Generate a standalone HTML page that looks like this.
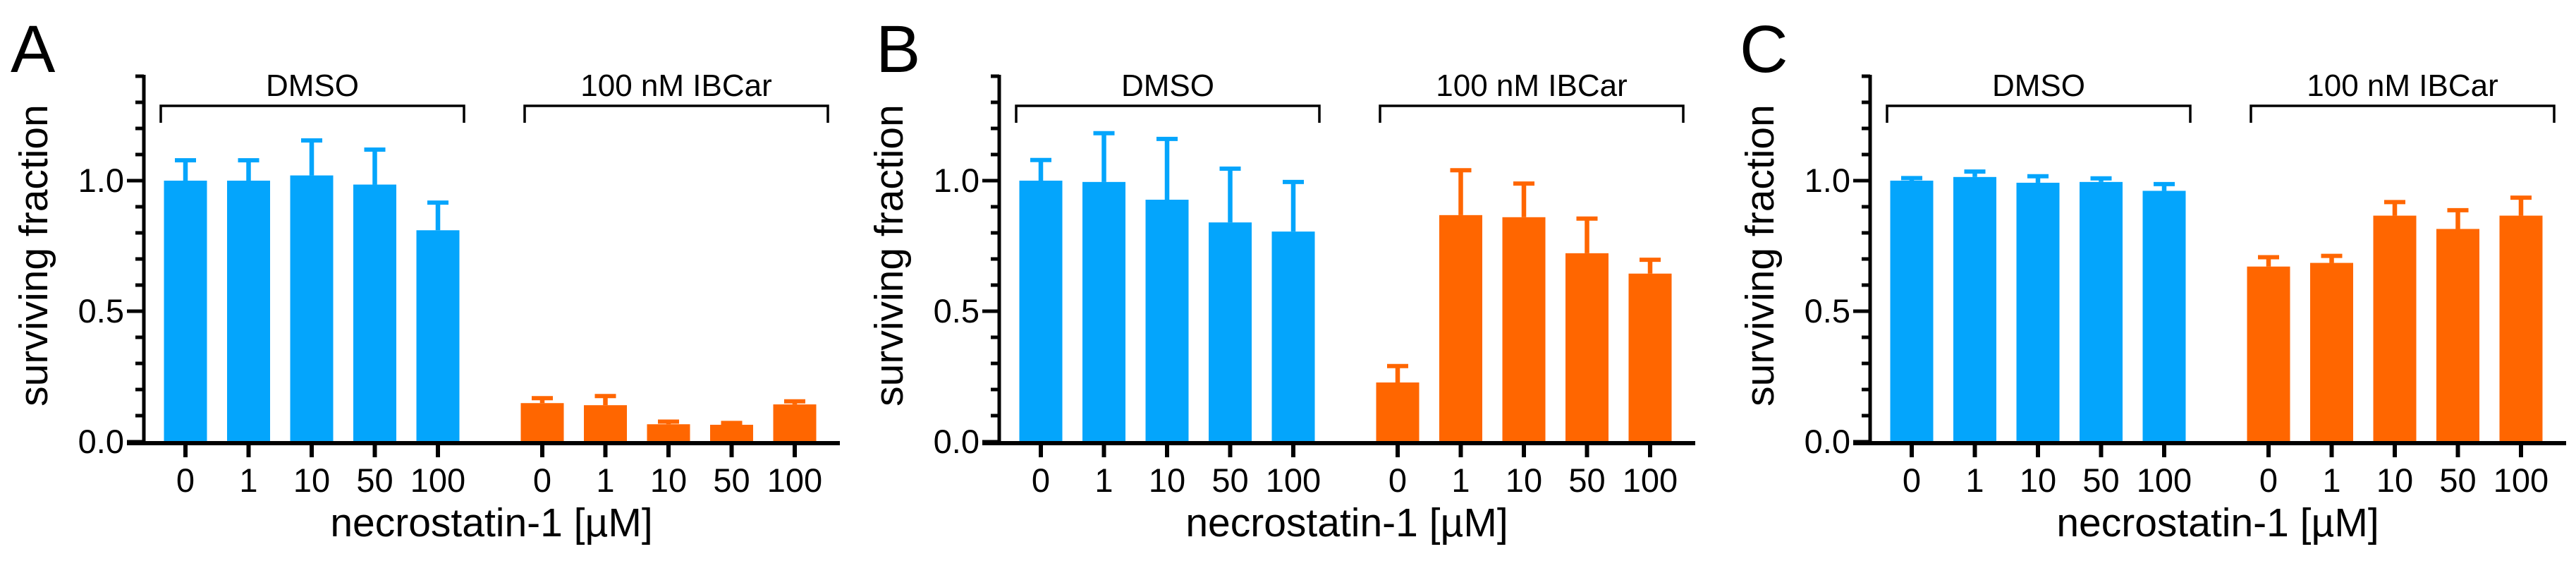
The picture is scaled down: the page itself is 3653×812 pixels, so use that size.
<!DOCTYPE html>
<html><head><meta charset="utf-8"><style>
html,body{margin:0;padding:0;background:#fff;}
svg{display:block;font-family:"Liberation Sans",Arial,sans-serif;}
</style></head><body>
<svg id="fig" width="3653" height="812" viewBox="0 0 3653 812" xmlns="http://www.w3.org/2000/svg"></svg>
<script>
const categories = ["0","1","10","50","100"];
const groupLabels = ["DMSO","100 nM IBCar"];
const panelLetters = ["A","B","C"];
const yTickLabels = ["0.0","0.5","1.0"];
const yTickValues = [0,0.5,1.0];
const aDmso = [1.0,1.0,1.02,0.985,0.81];
const aDmsoErr = [1.086,1.086,1.162,1.127,0.924];
const aIbcar = [0.148,0.14,0.067,0.065,0.143];
const aIbcarErr = [0.175,0.183,0.085,0.08,0.163];
const bDmso = [1.0,0.995,0.927,0.84,0.805];
const bDmsoErr = [1.087,1.19,1.168,1.054,1.003];
const bIbcar = [0.227,0.868,0.86,0.722,0.644];
const bIbcarErr = [0.298,1.048,0.997,0.863,0.705];
const cDmso = [1.0,1.014,0.992,0.995,0.961];
const cDmsoErr = [1.018,1.043,1.025,1.017,0.995];
const cIbcar = [0.671,0.685,0.866,0.815,0.866];
const cIbcarErr = [0.715,0.72,0.926,0.895,0.943];

const NS="http://www.w3.org/2000/svg";
const svg=document.getElementById('fig');
function mk(tag,attrs,parent){const e=document.createElementNS(NS,tag);for(const k in attrs)e.setAttribute(k,attrs[k]);(parent||svg).appendChild(e);return e;}
const Y0=626, UNIT=370, YMAX=1.4;
function yScale(v){return Y0-v*UNIT;}
function xScale(group,i){return 263+i*89.5+group*506;}
const offsets=[0,1213,2448];
const letterX=[15,1242,2467];
const data=[[aDmso,aDmsoErr,aIbcar,aIbcarErr],[bDmso,bDmsoErr,bIbcar,bIbcarErr],[cDmso,cDmsoErr,cIbcar,cIbcarErr]];
const colors=["#04A5FC","#FF6600"];

data.forEach((pd,p)=>{
  const g=mk('g',{transform:'translate('+offsets[p]+',0)'});
  
  
  const L=mk('text',{x:letterX[p]-offsets[p],y:102,'font-size':95,fill:'#000'},g);
  L.textContent=panelLetters[p];
  
  
  // bars
  for(let s=0;s<2;s++){
    const vals=pd[s*2], errs=pd[s*2+1];
    vals.forEach((v,i)=>{
      const cx=xScale(s,i);
      const e=mk('line',{x1:cx,x2:cx,y1:yScale(errs[i])+3,y2:yScale(v),stroke:colors[s],'stroke-width':6.5},g);
      
      
      const cap=mk('line',{x1:cx-15,x2:cx+15,y1:yScale(errs[i])+3,y2:yScale(errs[i])+3,stroke:colors[s],'stroke-width':6},g);
      
      
      const r=mk('rect',{x:cx-30.5,y:yScale(v),width:61,height:Y0-yScale(v),fill:colors[s]},g);
      
      
      const t=mk('line',{x1:cx,x2:cx,y1:Y0,y2:648,stroke:'#000','stroke-width':6},g);
      
      
      const tl=mk('text',{x:cx,y:697,'font-size':47,'text-anchor':'middle',fill:'#000'},g);
      tl.textContent=categories[i];
      
      
    });
    // bracket
    const x1=228+s*516, x2=658+s*516;
    const br=mk('path',{d:'M'+x1+' 174 V150 H'+x2+' V174',fill:'none',stroke:'#000','stroke-width':3.5},g);
    
    
    const gl=mk('text',{x:(x1+x2)/2,y:136,'font-size':44,'text-anchor':'middle',fill:'#000'},g);
    gl.textContent=groupLabels[s];
    
    
  }
  // y axis
  const ya=mk('line',{x1:204,x2:204,y1:yScale(YMAX)-2,y2:Y0+2,stroke:'#000','stroke-width':5},g);
  
  
  for(let k=1;k<=14;k++){
    if(k%5===0)continue;
    const mt=mk('line',{x1:192,x2:204,y1:yScale(k/10),y2:yScale(k/10),stroke:'#000','stroke-width':5},g);
    
    
  }
  yTickValues.forEach((v,i)=>{
    const t=mk('line',{x1:180,x2:204,y1:yScale(v),y2:yScale(v),stroke:'#000','stroke-width':5},g);
    
    
    const tl=mk('text',{x:176,y:yScale(v)+16,'font-size':47,'text-anchor':'end',fill:'#000'},g);
    tl.textContent=yTickLabels[i];
    
    
  });
  const xa=mk('line',{x1:180,x2:1191,y1:Y0+2,y2:Y0+2,stroke:'#000','stroke-width':6},g);
  
  
  const yt=mk('text',{x:0,y:0,'font-size':57,'text-anchor':'middle',fill:'#000',transform:'translate(67,362) rotate(-90)'},g);
  yt.textContent='surviving fraction';
  
  
  const xt=mk('text',{x:697,y:760,'font-size':57,'text-anchor':'middle',fill:'#000'},g);
  xt.textContent='necrostatin-1 [µM]';
  
  
});
</script>
</body></html>
